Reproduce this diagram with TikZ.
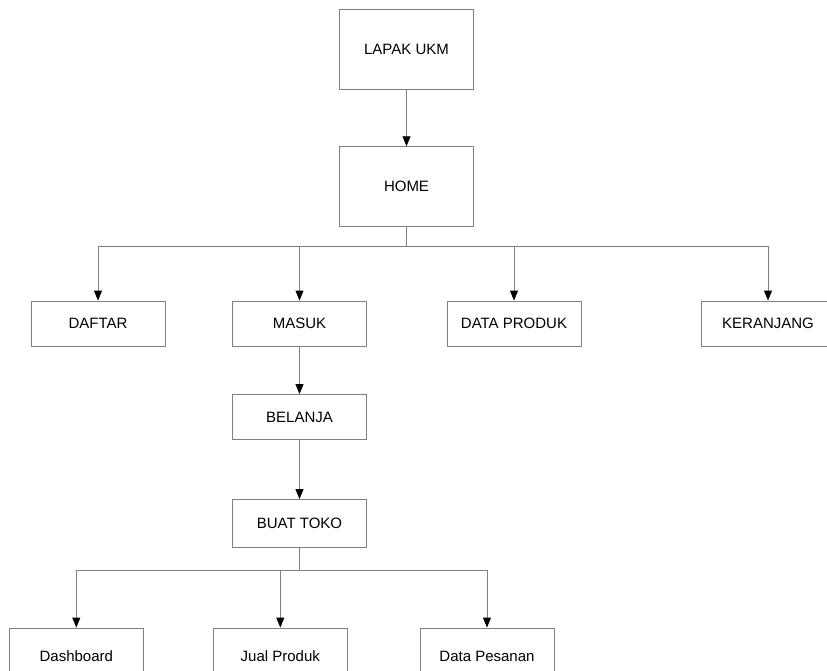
\documentclass[tikz,border=0pt]{standalone}
\usepackage{fontspec}
\setmainfont{Liberation Sans}
\usetikzlibrary{arrows.meta}
\definecolor{ln}{RGB}{128,128,128}
\begin{document}
\begin{tikzpicture}[x=1pt,y=-1pt,
  box/.style={draw=ln,line width=0.9pt,minimum width=134pt,minimum height=45pt,inner sep=0pt,
    font=\fontsize{15}{18}\selectfont,fill=white},
  bigbox/.style={box,minimum height=80pt},
  link/.style={draw=ln,line width=0.9pt,-{Triangle[width=8pt,length=10pt,color=black]}},
  plain/.style={draw=ln,line width=0.9pt}]
\useasboundingbox (0,0) rectangle (827,670);
\clip (0,0) rectangle (827,670);
\node[bigbox] (lapak) at (406.5,49) {LAPAK UKM};
\node[bigbox] (home) at (406.5,186.7) {HOME};
\node[box] (daftar) at (98,323.5) {DAFTAR};
\node[box] (masuk) at (299.5,323.5) {MASUK};
\node[box] (produk) at (514,323.5) {DATA PRODUK};
\node[box] (keranjang) at (768,323.5) {KERANJANG};
\node[box] (belanja) at (299.5,417) {BELANJA};
\node[box,minimum height=48pt] (toko) at (299.5,523.5) {BUAT TOKO};
\node[box,minimum height=56pt] (dash) at (76.3,656) {Dashboard};
\node[box,minimum height=56pt] (jual) at (280.3,656) {Jual Produk};
\node[box,minimum height=56pt] (pesanan) at (487,656) {Data Pesanan};
\coordinate (hb) at (406.5,246);
\coordinate (tb) at (299.5,570.5);
\draw[link] (lapak) -- (home);
\draw[plain] (home.south) -- (hb);
\draw[link] (hb) -| (daftar.north);
\draw[link] (hb) -| (masuk.north);
\draw[link] (hb) -| (produk.north);
\draw[link] (hb) -| (keranjang.north);
\draw[link] (masuk) -- (belanja);
\draw[link] (belanja) -- (toko);
\draw[plain] (toko.south) -- (tb);
\draw[link] (tb) -| (dash.north);
\draw[link] (tb) -| (jual.north);
\draw[link] (tb) -| (pesanan.north);
\end{tikzpicture}
\end{document}
